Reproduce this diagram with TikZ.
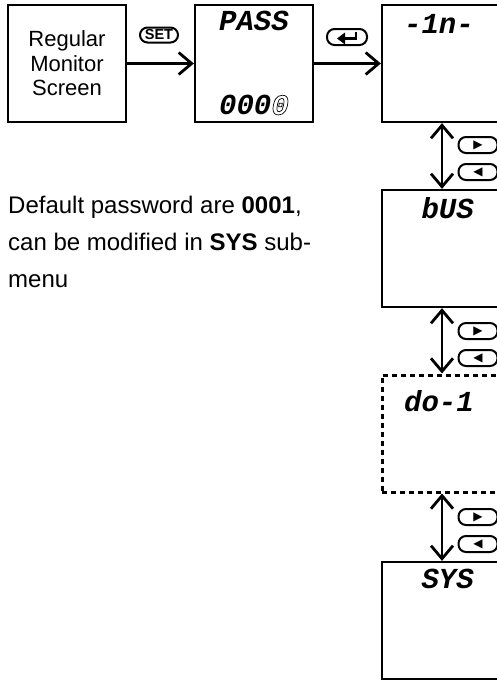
\documentclass[tikz,border=0pt]{standalone}
\usepackage{fontspec}
\setmainfont{Liberation Sans}
\newfontfamily\lcdfont{Liberation Mono}
\newfontfamily\symfont{DejaVu Sans}
\usetikzlibrary{arrows.meta,positioning}
% outlined (blinking) digit on the display
\newcommand{\hollowdigit}[1]{\special{pdf:literal direct 1 Tr 0.7 w}#1\special{pdf:literal direct 0 Tr}}

\begin{document}
\begin{tikzpicture}[x=1pt, y=-1pt,
	every node/.style={inner sep=0pt},
	screen/.style={draw, line width=2.3pt, minimum width=118pt, minimum height=117pt},
	lcd/.style={screen, minimum width=120pt},
	lcdtext/.style={font=\lcdfont\bfseries\itshape\fontsize{29}{29}\selectfont, anchor=north east},
	keycap/.style={draw, line width=2pt, rounded corners=7.5pt, minimum width=39pt, minimum height=16pt},
	flow/.style={line width=2.8pt, -{Straight Barb[length=13pt,width=22pt,line width=2.8pt]}},
	updown/.style={line width=2.8pt, {Straight Barb[length=13pt,width=22pt,line width=2.8pt]}-{Straight Barb[length=13pt,width=22pt,line width=2.8pt]}}]
	\useasboundingbox (0,0) rectangle (497,680);
	\clip (0,0) rectangle (497,680);
	% top row
	\node[screen, align=center, font=\fontsize{22}{24.5}\selectfont] (regular) at (67,63.5) {Regular\\Monitor\\Screen};
	\node[screen] (pass) at (254,63.5) {};
	\node[lcdtext, below=7pt of pass.north] (passname) {PASS};
	\node[lcdtext, above=8pt of pass.south] (passcode) {000\hollowdigit{0}};
	\node[keycap, minimum width=38pt, minimum height=15pt, font=\bfseries\fontsize{14.5}{14.5}\selectfont] (setkey) at (159,35) {SET};
	\node[keycap, minimum width=40pt] (enterkey) at (347,37) {};
	\draw[line width=2.4pt] ([shift={(9,-5)}]enterkey.center) -- ([shift={(9,1.5)}]enterkey.center) -- ([shift={(-3,1.5)}]enterkey.center);
	\fill ([shift={(-10,1.5)}]enterkey.center) -- ([shift={(-2,-4.5)}]enterkey.center) -- ([shift={(-2,7.5)}]enterkey.center) -- cycle;
	% menu screens
	\node[lcd] (lcdin) at (442,63.5) {};
	\node[lcd] (lcdbus) at (442,248.5) {};
	\node[lcd, line width=3pt, dash pattern=on 5pt off 4pt] (lcddo) at (442,433.5) {};
	\node[lcd] (lcdsys) at (442,620.5) {};
	\node[lcdtext] (inname) at (474,14) {-1n-};
	\node[lcdtext] (busname) at (474,197) {bUS};
	\node[lcdtext] (doname) at (474,390) {do-1};
	\node[lcdtext] (sysname) at (474,569) {SYS};
	\draw[flow] (regular) -- (pass);
	\draw[flow] (pass) -- (lcdin);
	\foreach \a/\b in {lcdin/lcdbus, lcdbus/lcddo, lcddo/lcdsys}
		\draw[updown] (\a) -- (\b);
	\foreach \y [count=\i] in {145,331,517} {
		\node[keycap, font=\symfont\fontsize{12}{12}\selectfont] (next\i) at (478,\y) {▶};
		\node[keycap, font=\symfont\fontsize{12}{12}\selectfont] (prev\i) at (478,\y+27) {◀};
	}
	% note
	\node[anchor=north west, align=left, font=\fontsize{24}{37}\selectfont] (note) at (8,196) {Default password are \textbf{0001},\\can be modified in \textbf{SYS} sub-\\menu};
\end{tikzpicture}
\end{document}
